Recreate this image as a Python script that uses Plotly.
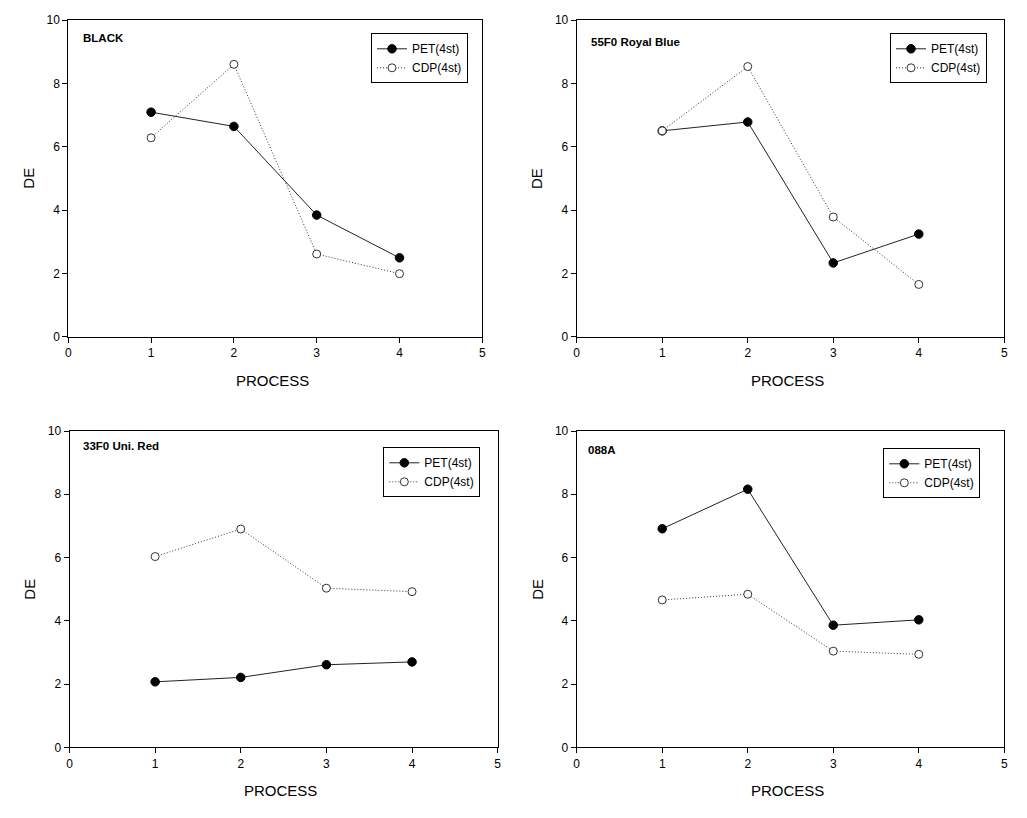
import plotly.graph_objects as go

W, H = 1027, 818

process = [1, 2, 3, 4]
panel_names = ["BLACK", "55F0 Royal Blue", "33F0 Uni. Red", "088A"]
pet_black = [7.09, 6.64, 3.84, 2.49]
cdp_black = [6.28, 8.60, 2.61, 1.99]
pet_blue = [6.50, 6.78, 2.33, 3.24]
cdp_blue = [6.50, 8.53, 3.78, 1.65]
pet_red = [2.07, 2.21, 2.61, 2.70]
cdp_red = [6.03, 6.90, 5.03, 4.92]
pet_088a = [6.91, 8.16, 3.86, 4.03]
cdp_088a = [4.66, 4.84, 3.04, 2.94]
x_ticks = [0, 1, 2, 3, 4, 5]
y_ticks = [0, 2, 4, 6, 8, 10]

pet_series = [pet_black, pet_blue, pet_red, pet_088a]
cdp_series = [cdp_black, cdp_blue, cdp_red, cdp_088a]

# plot-area boxes in pixels: (left, right, top, bottom)
boxes = [
    (68.3, 482.3, 20.0, 336.7),
    (576.7, 1004.3, 20.0, 336.7),
    (69.5, 497.7, 431.0, 747.3),
    (576.7, 1004.3, 431.0, 747.3),
]
legend_pos = [(371, 33.3), (890, 33.3), (383.3, 447.3), (883.3, 448.3)]
name_pos = [(80.7, 38), (589.3, 41.7), (80.7, 445.7), (585.7, 450)]

FONT = "Arial, Liberation Sans, sans-serif"

fig = go.Figure()
layout = dict(
    width=W, height=H,
    margin=dict(l=0, r=0, t=0, b=0, autoexpand=False),
    paper_bgcolor="white", plot_bgcolor="white",
    font=dict(family=FONT, color="black", size=11),
    showlegend=True,
    annotations=[],
)

for i in range(4):
    k = "" if i == 0 else str(i + 1)
    l, r, t, b = boxes[i]
    xd = [l / W, r / W]
    yd = [1 - b / H, 1 - t / H]
    leg = "legend" if i == 0 else f"legend{i+1}"
    fig.add_trace(go.Scatter(
        x=process, y=pet_series[i], name="PET(4st)", mode="lines+markers",
        xaxis="x" + k, yaxis="y" + k, legend=leg,
        line=dict(color="#222222", width=1),
        marker=dict(symbol="circle", size=8.5, color="black", line=dict(color="black", width=1)),
    ))
    fig.add_trace(go.Scatter(
        x=process, y=cdp_series[i], name="CDP(4st)", mode="lines+markers",
        xaxis="x" + k, yaxis="y" + k, legend=leg,
        line=dict(color="#333333", width=1, dash="1px,2px"),
        marker=dict(symbol="circle", size=8, color="white", line=dict(color="#333333", width=1)),
    ))
    axcommon = dict(
        showgrid=False, zeroline=False, showline=True, linecolor="black", linewidth=1,
        mirror=True, ticks="outside", ticklen=5, tickwidth=1, tickcolor="black",
        tickfont=dict(family=FONT, size=12, color="black"), automargin=False,
    )
    layout["xaxis" + k] = dict(axcommon, domain=xd, range=[0, 5], tickvals=x_ticks,
                               anchor="y" + k, fixedrange=True)
    layout["yaxis" + k] = dict(axcommon, domain=yd, range=[0, 10], tickvals=y_ticks,
                               anchor="x" + k, fixedrange=True)
    lx, ly = legend_pos[i]
    layout[leg] = dict(
        x=lx / W, y=1 - ly / H, xanchor="left", yanchor="top",
        bordercolor="black", borderwidth=1, bgcolor="white",
        font=dict(family=FONT, size=12, color="black"),
        itemwidth=30, tracegroupgap=0,
    )
    nx, ny = name_pos[i]
    layout["annotations"].append(dict(
        text="<b>" + panel_names[i] + "</b>", x=nx / W, y=1 - ny / H,
        xref="paper", yref="paper", xanchor="left", yanchor="middle",
        showarrow=False, font=dict(family=FONT, size=11.5, color="black"),
    ))
    layout["annotations"].append(dict(
        text="DE", x=(l - 40) / W, y=1 - ((t + b) / 2) / H,
        xref="paper", yref="paper", xanchor="center", yanchor="middle",
        textangle=-90, showarrow=False, font=dict(family=FONT, size=15, color="black"),
    ))
    layout["annotations"].append(dict(
        text="PROCESS", x=((l + r) / 2 - 3) / W, y=1 - (b + 43.5) / H,
        xref="paper", yref="paper", xanchor="center", yanchor="middle",
        showarrow=False, font=dict(family=FONT, size=15, color="black"),
    ))

fig.update_layout(**layout)
fig.write_html(
    "out.html",
    config={"displayModeBar": False},
    post_script="document.body.style.margin='0';document.body.style.overflow='hidden';",
)
